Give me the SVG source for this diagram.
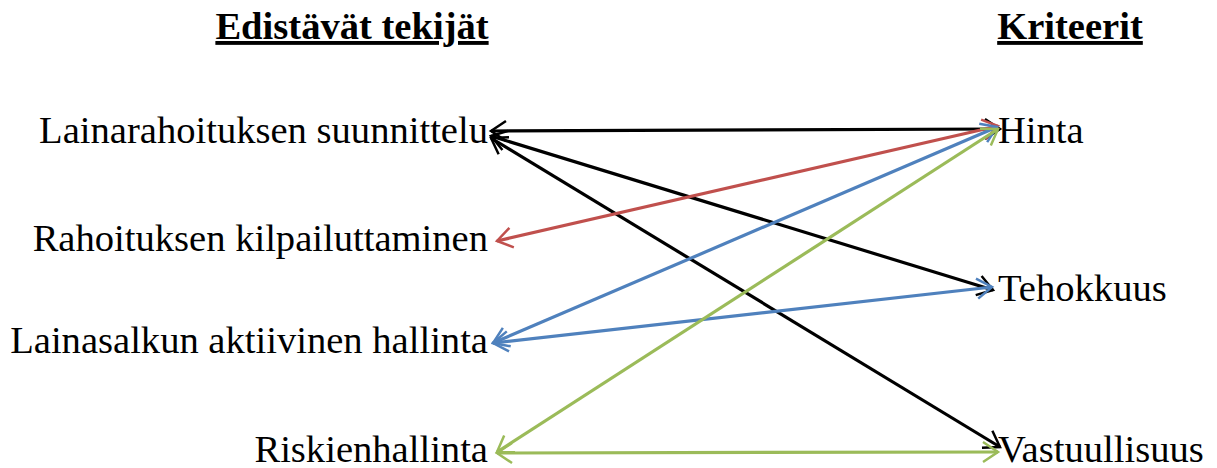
<svg xmlns="http://www.w3.org/2000/svg" width="1217" height="468" viewBox="0 0 1217 468">
<style>
text{font-family:"Liberation Serif","Times New Roman",serif;font-size:38.6px;fill:#000}
.title{font-weight:bold;text-decoration:underline}
.l{text-anchor:end}
.c line{stroke-width:3.2;fill:none}
.k{stroke:#000}.r{stroke:#C0504D}.b{stroke:#4F81BD}.g{stroke:#9BBB59}
</style>
<defs>
<marker id="mk" viewBox="0 0 20 24" refX="18" refY="12" markerWidth="17" markerHeight="20" markerUnits="userSpaceOnUse" orient="auto-start-reverse" overflow="visible"><path d="M0,0 L18,12 L0,24" fill="none" stroke="#000" stroke-width="3"/></marker>
<marker id="mr" viewBox="0 0 20 24" refX="18" refY="12" markerWidth="17" markerHeight="20" markerUnits="userSpaceOnUse" orient="auto-start-reverse" overflow="visible"><path d="M0,0 L18,12 L0,24" fill="none" stroke="#C0504D" stroke-width="3"/></marker>
<marker id="mb" viewBox="0 0 20 24" refX="18" refY="12" markerWidth="17" markerHeight="20" markerUnits="userSpaceOnUse" orient="auto-start-reverse" overflow="visible"><path d="M0,0 L18,12 L0,24" fill="none" stroke="#4F81BD" stroke-width="3"/></marker>
<marker id="mg" viewBox="0 0 20 24" refX="18" refY="12" markerWidth="17" markerHeight="20" markerUnits="userSpaceOnUse" orient="auto-start-reverse" overflow="visible"><path d="M0,0 L18,12 L0,24" fill="none" stroke="#9BBB59" stroke-width="3"/></marker>
</defs>
<rect width="1217" height="468" fill="#fff"/>
<g id="titles">
<text class="title" x="352" y="39" text-anchor="middle">Edistävät tekijät</text>
<text class="title" x="1070" y="39" text-anchor="middle">Kriteerit</text>
</g>
<g id="n-lainarahoitus"><text class="l" x="488" y="143">Lainarahoituksen suunnittelu</text></g>
<g id="n-kilpailutus"><text class="l" x="488" y="251">Rahoituksen kilpailuttaminen</text></g>
<g id="n-lainasalkku"><text class="l" x="488" y="353">Lainasalkun aktiivinen hallinta</text></g>
<g id="n-riskienhallinta"><text class="l" x="488" y="462">Riskienhallinta</text></g>
<g id="n-hinta"><text x="998" y="143">Hinta</text></g>
<g id="n-tehokkuus"><text x="998" y="301">Tehokkuus</text></g>
<g id="n-vastuullisuus"><text x="998" y="462">Vastuullisuus</text></g>
<g id="connectors" class="c">
<line class="k" x1="491" y1="131" x2="1000" y2="129" marker-start="url(#mk)" marker-end="url(#mk)"/>
<line class="k" x1="491" y1="136" x2="993" y2="290" marker-start="url(#mk)" marker-end="url(#mk)"/>
<line class="k" x1="491" y1="138" x2="1000" y2="447" marker-start="url(#mk)" marker-end="url(#mk)"/>
<line class="r" x1="497" y1="241" x2="998" y2="126" marker-start="url(#mr)" marker-end="url(#mr)"/>
<line class="b" x1="493" y1="343" x2="997" y2="127" marker-start="url(#mb)" marker-end="url(#mb)"/>
<line class="b" x1="493" y1="343" x2="992" y2="287" marker-start="url(#mb)" marker-end="url(#mb)"/>
<line class="g" x1="497" y1="452" x2="998" y2="129" marker-start="url(#mg)" marker-end="url(#mg)"/>
<line class="g" x1="497" y1="453" x2="998" y2="452" marker-start="url(#mg)" marker-end="url(#mg)"/>
</g>
</svg>
